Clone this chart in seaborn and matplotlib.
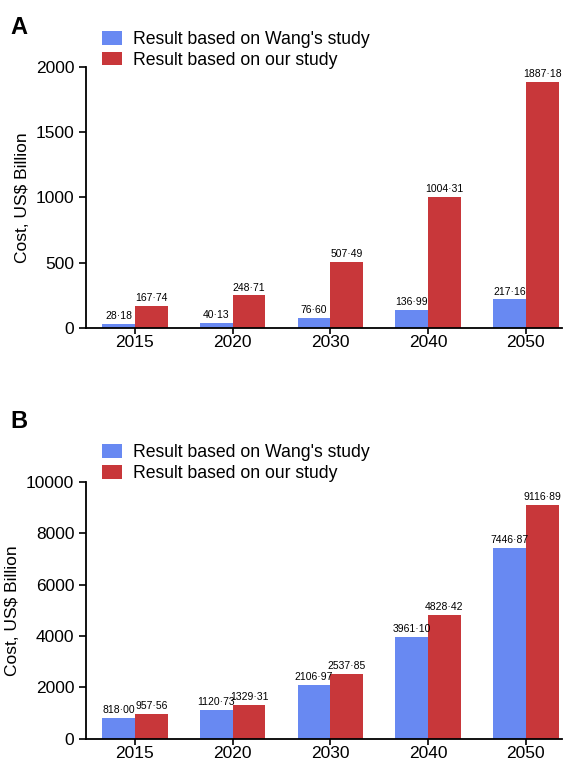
import matplotlib
matplotlib.use("Agg")
import matplotlib.pyplot as plt
import seaborn as sns
import pandas as pd

# --- data ---
years = ["2015", "2020", "2030", "2040", "2050"]
series = ["Result based on Wang's study", "Result based on our study"]
wang_a = [28.18, 40.13, 76.60, 136.99, 217.16]
ours_a = [167.74, 248.71, 507.49, 1004.31, 1887.18]
wang_b = [818.00, 1120.73, 2106.97, 3961.10, 7446.87]
ours_b = [957.56, 1329.31, 2537.85, 4828.42, 9116.89]
colors = ["#6889F2", "#C8373A"]

sns.set_theme(style="ticks")
plt.rcParams["font.family"] = ["Liberation Sans", "DejaVu Sans"]
plt.rcParams.update({"text.color": "black", "axes.labelcolor": "black",
                     "xtick.color": "black", "ytick.color": "black"})


def to_frame(wang, ours):
    return pd.DataFrame({
        "year": years * 2,
        "cost": wang + ours,
        "study": [series[0]] * len(years) + [series[1]] * len(years),
    })


def draw_panel(ax, df, ymax, step, legend_anchor):
    sns.barplot(data=df, x="year", y="cost", hue="study", hue_order=series,
                palette=colors, width=0.67, saturation=1, ax=ax,
                edgecolor="none")
    for cont in ax.containers:
        ax.bar_label(cont, labels=[f"{v:.2f}".replace(".", "\u00b7") for v in cont.datavalues],
                     fontsize=7.5, padding=2)
    ax.set_ylim(0, ymax)
    ax.set_yticks(range(0, ymax + 1, step))
    ax.set_xlim(-0.5, 4.37)
    ax.set_xlabel("")
    ax.set_ylabel("Cost, US$ Billion", fontsize=12.5)
    ax.tick_params(axis="both", labelsize=12.5, width=1.2, length=5, color="black")
    ax.tick_params(axis="x", pad=1, length=4)
    for s in ["left", "bottom"]:
        ax.spines[s].set_linewidth(1.3)
        ax.spines[s].set_color("black")
    sns.despine(ax=ax)
    ax.legend(loc="lower left", bbox_to_anchor=legend_anchor, frameon=False,
              fontsize=12.7, handlelength=1.1, handleheight=0.8,
              handletextpad=0.65, labelspacing=0.22, borderaxespad=0)


fig = plt.figure(figsize=(5.70, 7.64), dpi=100)
ax_a = fig.add_axes([0.151, 0.571, 0.835, 0.341])
ax_b = fig.add_axes([0.151, 0.033, 0.835, 0.336])

draw_panel(ax_a, to_frame(wang_a, ours_a), 2000, 500, (0.019, 0.967))
draw_panel(ax_b, to_frame(wang_b, ours_b), 10000, 2000, (0.019, 0.972))

fig.text(0.018, 0.955, "A", fontsize=17, fontweight="bold")
fig.text(0.018, 0.44, "B", fontsize=17, fontweight="bold")

fig.savefig("out.png", dpi=100)
